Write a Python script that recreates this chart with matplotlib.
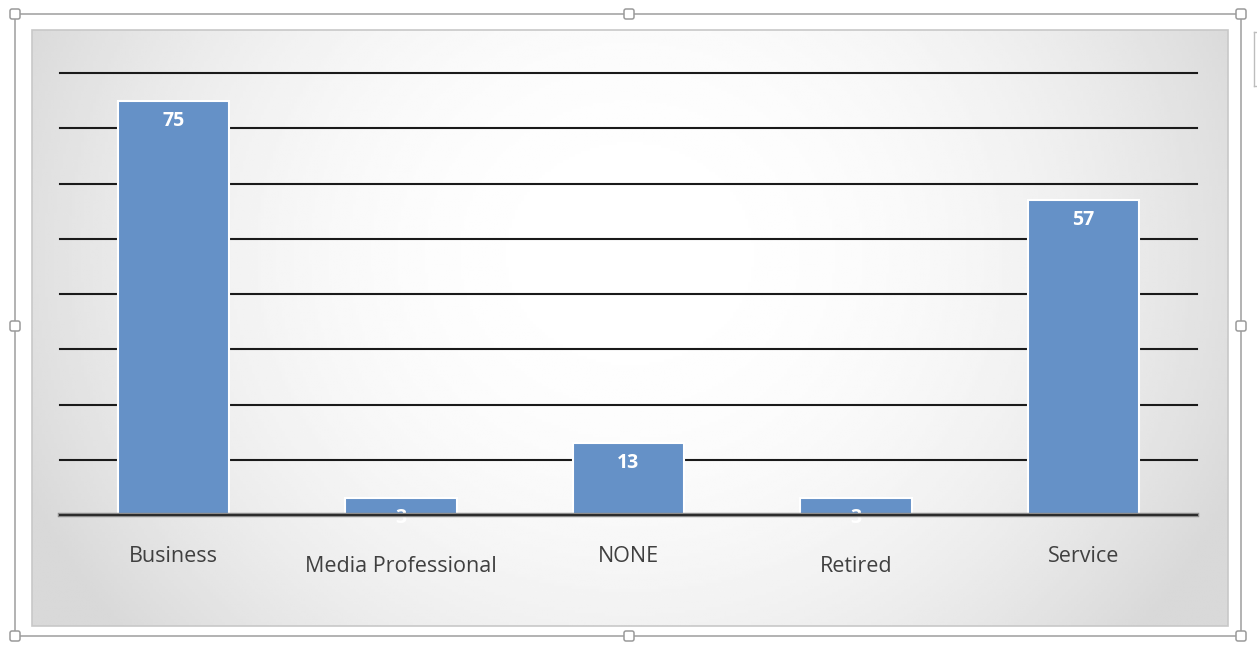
import matplotlib.pyplot as plt
from matplotlib.patches import Rectangle, FancyBboxPatch
import numpy as np

# chart data
categories = ['Business', 'Media Professional', 'NONE', 'Retired', 'Service']
counts = [75, 3, 13, 3, 57]
label_drop = [False, True, False, True, False]  # excel staggers long labels

W, H = 1257, 648
fig = plt.figure(figsize=(W / 100, H / 100), dpi=100)
fig.patch.set_facecolor('white')

# decoration layer in pixel coords (selection frame + chart area)
bg = fig.add_axes([0, 0, 1, 1])
bg.set_xlim(0, W)
bg.set_ylim(H, 0)
bg.axis('off')

# radial gradient for the chart area, lighter towards the top
x0, y0, x1, y1 = 32, 30, 1228, 626
gx = np.linspace(-1, 1, 400)
gy = np.linspace(-1, 1, 200)
XX, YY = np.meshgrid(gx, gy)
r = np.sqrt(XX ** 2 + (0.55 * (YY + 0.25)) ** 2)
r = np.clip(r / 1.1, 0, 1)
shade = 1.0 - 0.15 * r ** 2.2
bg.imshow(shade, cmap='gray', vmin=0, vmax=1, extent=[x0, x1, y1, y0],
          aspect='auto', interpolation='bilinear', zorder=1)
bg.add_patch(Rectangle((x0, y0), x1 - x0, y1 - y0, fill=False,
                       edgecolor='#c8c8c8', lw=1.2, zorder=2))

# selection frame
bg.add_patch(Rectangle((15, 14), 1241 - 15, 636 - 14, fill=False,
                       edgecolor='#a6a6a6', lw=1.2, zorder=2))
for hx, hy in [(15, 14), (629, 14), (1241, 14), (15, 326), (1241, 326),
               (15, 636), (629, 636), (1241, 636)]:
    bg.add_patch(FancyBboxPatch((hx - 5, hy - 5), 10, 10,
                                boxstyle='round,pad=0,rounding_size=2',
                                facecolor='white', edgecolor='#9a9a9a',
                                lw=1.1, zorder=3))
bg.plot([1254, 1254], [32, 86], color='#bdbdbd', lw=1, zorder=2)
bg.plot([1254, 1257], [32, 32], color='#bdbdbd', lw=1, zorder=2)
bg.plot([1254, 1257], [86, 86], color='#bdbdbd', lw=1, zorder=2)

# the actual chart
ax = fig.add_axes([60 / W, 1 - 515 / H, (1197 - 60) / W, (515 - 73) / H])
ax.patch.set_alpha(0)
xs = np.arange(len(categories))

for v in range(10, 90, 10):
    ax.axhline(v, color='#1a1a1a', lw=1.5, zorder=1, clip_on=False)

ax.bar(xs, counts, width=0.49, color='#6591c7', edgecolor='white',
       linewidth=1.5, zorder=2)
ax.axhline(0, color='#8c8c8c', lw=3.2, zorder=3, clip_on=False)
ax.axhline(0, color='#2a2a2a', lw=1.4, zorder=4, clip_on=False)

for x, c in zip(xs, counts):
    ax.annotate(str(c), (x, c), xytext=(0, -20), textcoords='offset pixels',
                ha='center', va='center', color='white', fontsize=14,
                fontweight='bold', family='Open Sans', zorder=2.5)

ax.set_xlim(-0.5, 4.5)
ax.set_ylim(0, 80)
ax.set_xticks([])
ax.set_yticks([])
for s in ax.spines.values():
    s.set_visible(False)

for x, name, drop in zip(xs, categories, label_drop):
    ax.annotate(name, (x, 0), xytext=(0, -51 if drop else -41),
                textcoords='offset pixels', ha='center', va='center',
                color='#404040', fontsize=15.5, family='Open Sans')

plt.savefig('out.png', dpi=100)
